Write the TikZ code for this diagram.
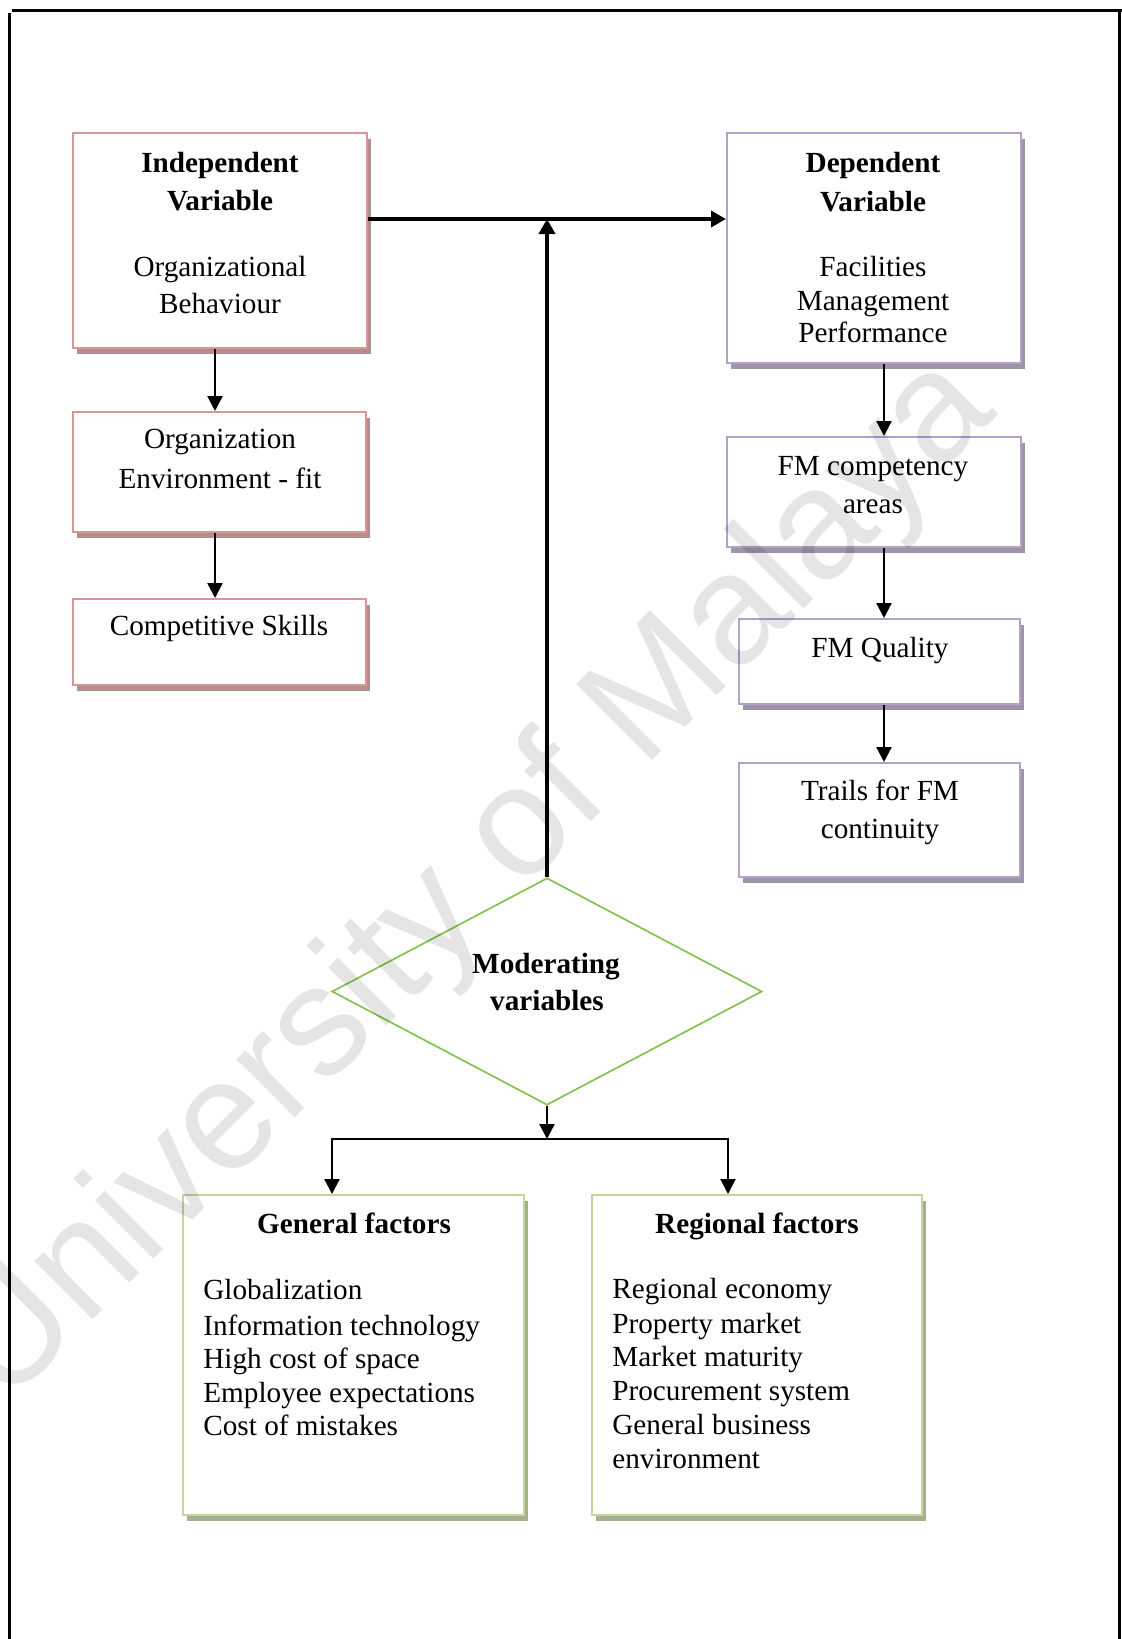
\documentclass[tikz,border=0pt]{standalone}
\usepackage{fontspec}
\setmainfont{Liberation Serif}
\newfontfamily\wmfont{Liberation Sans}
\usetikzlibrary{arrows.meta,shapes.geometric,shadows,calc}
\definecolor{redb}{RGB}{217,150,148}
\definecolor{reds}{RGB}{178,142,142}
\definecolor{purb}{RGB}{178,162,199}
\definecolor{purs}{RGB}{158,148,168}
\definecolor{grnb}{RGB}{195,214,155}
\definecolor{grns}{RGB}{166,175,143}
\definecolor{dia}{RGB}{125,194,66}
\begin{document}
\begin{tikzpicture}[x=0.5pt,y=-0.5pt,
  box/.style={rectangle, draw, line width=1pt, fill=white, inner sep=0pt},
  redbox/.style={box, draw=redb, drop shadow={fill=reds,opacity=1,shadow xshift=2pt,shadow yshift=-3pt}},
  purbox/.style={box, draw=purb, drop shadow={fill=purs,opacity=1,shadow xshift=2pt,shadow yshift=-3pt}},
  grnbox/.style={box, draw=grnb, drop shadow={fill=grns,opacity=1,shadow xshift=2pt,shadow yshift=-3pt}},
  txt/.style={anchor=base, inner sep=0pt, font=\fontsize{14.6}{17}\selectfont},
  btxt/.style={anchor=base, inner sep=0pt, font=\fontsize{14.6}{17}\selectfont\bfseries},
  ltxt/.style={anchor=base west, inner sep=0pt, font=\fontsize{14.6}{17}\selectfont},
  arr/.style={-{Triangle[width=7.5pt,length=7.5pt]}, line width=1.2pt},
  mainarr/.style={-{Triangle[width=8pt,length=7.5pt]}, line width=1.8pt},
  border/.style={line width=1.5pt}
]
\useasboundingbox (0,0) rectangle (1122,1639);

% page frame
\draw[border] (12,10) -- (1122,10);
\draw[border] (9.5,13) -- (9.5,1639);
\draw[border] (1119,10) -- (1119,1639);

% boxes
\node[redbox, minimum width=147pt, minimum height=107.5pt] (iv) at (220,240.5) {};
\node[redbox, minimum width=146.5pt, minimum height=60pt] (oe) at (219.5,472) {};
\node[redbox, minimum width=146.5pt, minimum height=43pt] (cs) at (219.5,642) {};
\node[purbox, minimum width=147pt, minimum height=115pt] (dv) at (874,248) {};
\node[purbox, minimum width=147pt, minimum height=55pt] (fmc) at (874,492) {};
\node[purbox, minimum width=140.5pt, minimum height=42.5pt] (fmq) at (879.5,661.5) {};
\node[purbox, minimum width=140.5pt, minimum height=57pt] (tr) at (879.5,820) {};
\node[grnbox, minimum width=170.5pt, minimum height=160pt] (gf) at (353.5,1355) {};
\node[grnbox, minimum width=165pt, minimum height=160pt] (rf) at (757,1355) {};
\node[diamond, draw=dia, fill=white, line width=0.8pt, minimum width=215pt, minimum height=113.5pt, inner sep=0pt] (mv) at (547,991.5) {};

% connectors
\coordinate (j) at (547,219);
\draw[mainarr] (iv.east |- j) -- (dv.west |- j);
\draw[mainarr] (mv.north) -- (j);
\coordinate (lx) at (215,0);
\draw[arr] (iv.south -| lx) -- (oe.north -| lx);
\draw[arr] (oe.south -| lx) -- (cs.north -| lx);
\coordinate (rx) at (884,0);
\draw[arr] (dv.south -| rx) -- (fmc.north -| rx);
\draw[arr] (fmc.south -| rx) -- (fmq.north -| rx);
\draw[arr] (fmq.south -| rx) -- (tr.north -| rx);
\coordinate (bj) at (547,1139);
\coordinate (bl) at (332,1139);
\coordinate (br) at (728,1139);
\draw[arr] (mv.south) -- (bj);
\draw[arr, line width=1.1pt] (bj) -| (bl |- gf.north);
\draw[arr, line width=1.1pt] (bj) -| (br |- rf.north);

% texts
\node[btxt] (t1) at (220,172) {Independent};
\node[btxt] (t2) at (220,210) {Variable};
\node[txt] (t3) at (220,276) {Organizational};
\node[txt] (t4) at (220,313) {Behaviour};
\node[txt] (t5) at (220,448) {Organization};
\node[txt] (t6) at (220,488) {Environment - fit};
\node[txt] (t7) at (219,635) {Competitive Skills};
\node[btxt] (t8) at (873,172) {Dependent};
\node[btxt] (t9) at (873,211) {Variable};
\node[txt] (t10) at (873,276) {Facilities};
\node[txt] (t11) at (873,310) {Management};
\node[txt] (t12) at (873,342) {Performance};
\node[txt] (t13) at (873,475) {FM competency};
\node[txt] (t14) at (873,513) {areas};
\node[txt] (t15) at (880,657) {FM Quality};
\node[txt] (t16) at (880,800) {Trails for FM};
\node[txt] (t17) at (880,838) {continuity};
\node[btxt] (t18) at (546,973) {Moderating};
\node[btxt] (t19) at (547,1010) {variables};
\node[btxt] (t20) at (354,1233) {General factors};
\node[ltxt] (t21) at (203,1299) {Globalization};
\node[ltxt] (t22) at (203,1335) {Information technology};
\node[ltxt] (t23) at (203,1368) {High cost of space};
\node[ltxt] (t24) at (203,1402) {Employee expectations};
\node[ltxt] (t25) at (203,1435) {Cost of mistakes};
\node[btxt] (t26) at (757,1233) {Regional factors};
\node[ltxt] (t27) at (612,1298) {Regional economy};
\node[ltxt] (t28) at (612,1333) {Property market};
\node[ltxt] (t29) at (612,1366) {Market maturity};
\node[ltxt] (t30) at (612,1400) {Procurement system};
\node[ltxt] (t31) at (612,1434) {General business};
\node[ltxt] (t32) at (612,1468) {environment};

% watermark
\node[opacity=0.1, rotate=45, inner sep=0pt, font=\wmfont\fontsize{78}{80}\selectfont] (wm) at (474,882) {University of Malaya};
\end{tikzpicture}
\end{document}
